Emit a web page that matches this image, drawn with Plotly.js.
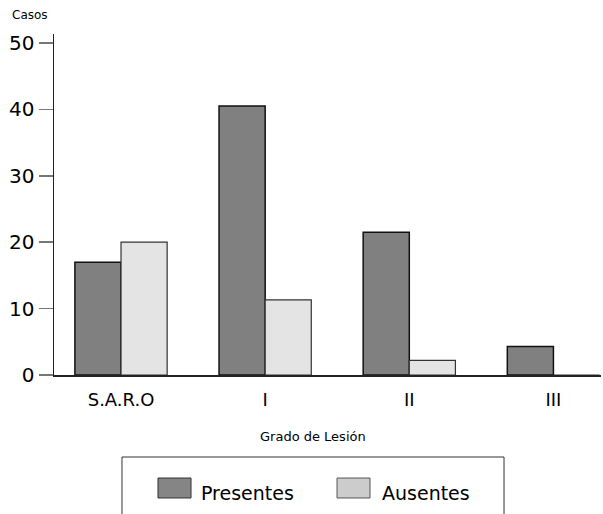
<!DOCTYPE html>
<html>
<head>
<meta charset="utf-8">
<script src="https://cdn.plot.ly/plotly-3.0.1.min.js"></script>
<style>html,body{margin:0;padding:0;background:#fff;}#chart{width:603px;height:514px;}</style>
</head>
<body>
<div id="chart"></div>
<script>
const categories = ["S.A.R.O", "I", "II", "III"];
const presentes = [17, 40.5, 21.5, 4.3];
const ausentes = [20, 11.3, 2.2, 0];
const yTickVals = [0, 10, 20, 30, 40, 50];
const seriesNames = ["Presentes", "Ausentes"];

const FONT = "DejaVu Sans, Arial, sans-serif";

const traces = [
  {
    type: "bar", name: seriesNames[0], x: categories, y: presentes,
    marker: {color: "#808080", line: {color: "#111", width: 1.5}},
    hoverinfo: "x+y"
  },
  {
    type: "bar", name: seriesNames[1], x: categories, y: ausentes,
    marker: {color: "#e4e4e4", line: {color: "#333", width: 1.2}},
    hoverinfo: "x+y"
  }
];

const layout = {
  width: 603, height: 514,
  margin: {l: 54, r: 2, t: 34, b: 139, pad: 0},
  paper_bgcolor: "#fff", plot_bgcolor: "#fff",
  showlegend: false,
  barmode: "group", bargap: 0.36, bargroupgap: 0,
  font: {family: FONT, color: "#000"},
  xaxis: {
    type: "category", range: [-0.465, 3.33],
    showline: true, linecolor: "#222", linewidth: 1.5,
    showgrid: false, zeroline: false, ticks: "",
    tickfont: {family: FONT, size: 18, color: "#000"},
    ticklabelstandoff: 8
  },
  yaxis: {
    range: [0, 51.36],
    showline: true, linecolor: "#222", linewidth: 1.5,
    showgrid: false, zeroline: false,
    tickmode: "array", tickvals: yTickVals, ticktext: yTickVals.map(String),
    ticks: "outside", ticklen: 14, tickwidth: 1.5, tickcolor: "#777",
    tickfont: {family: FONT, size: 20, color: "#000"}
  },
  shapes: [
    {type: "rect", xref: "paper", yref: "paper", x0: 0.1243, x1: 0.8227, y0: -0.5, y1: -0.2405,
     line: {color: "#333", width: 1}, fillcolor: "rgba(0,0,0,0)"},
    {type: "rect", xref: "paper", yref: "paper", x0: 0.1901, x1: 0.2505, y0: -0.3607, y1: -0.3021,
     line: {color: "#333", width: 1}, fillcolor: "#858585"},
    {type: "rect", xref: "paper", yref: "paper", x0: 0.5174, x1: 0.5777, y0: -0.3607, y1: -0.3021,
     line: {color: "#555", width: 1}, fillcolor: "#cccccc"}
  ],
  annotations: [
    {text: "Casos", xref: "paper", yref: "paper", x: -0.0804, y: 1.0557, xanchor: "left", yanchor: "middle",
     showarrow: false, font: {family: FONT, size: 12, color: "#000"}},
    {text: "Grado de Lesión", xref: "paper", yref: "paper", x: 0.4735, y: -0.1818, xanchor: "center", yanchor: "middle",
     showarrow: false, font: {family: FONT, size: 13, color: "#000"}},
    {text: seriesNames[0], xref: "paper", yref: "paper", x: 0.2651, y: -0.346, xanchor: "left", yanchor: "middle",
     showarrow: false, font: {family: FONT, size: 19, color: "#000"}},
    {text: seriesNames[1], xref: "paper", yref: "paper", x: 0.596, y: -0.346, xanchor: "left", yanchor: "middle",
     showarrow: false, font: {family: FONT, size: 19, color: "#000"}}
  ]
};

Plotly.newPlot("chart", traces, layout, {displayModeBar: false, staticPlot: true});
</script>
</body>
</html>
